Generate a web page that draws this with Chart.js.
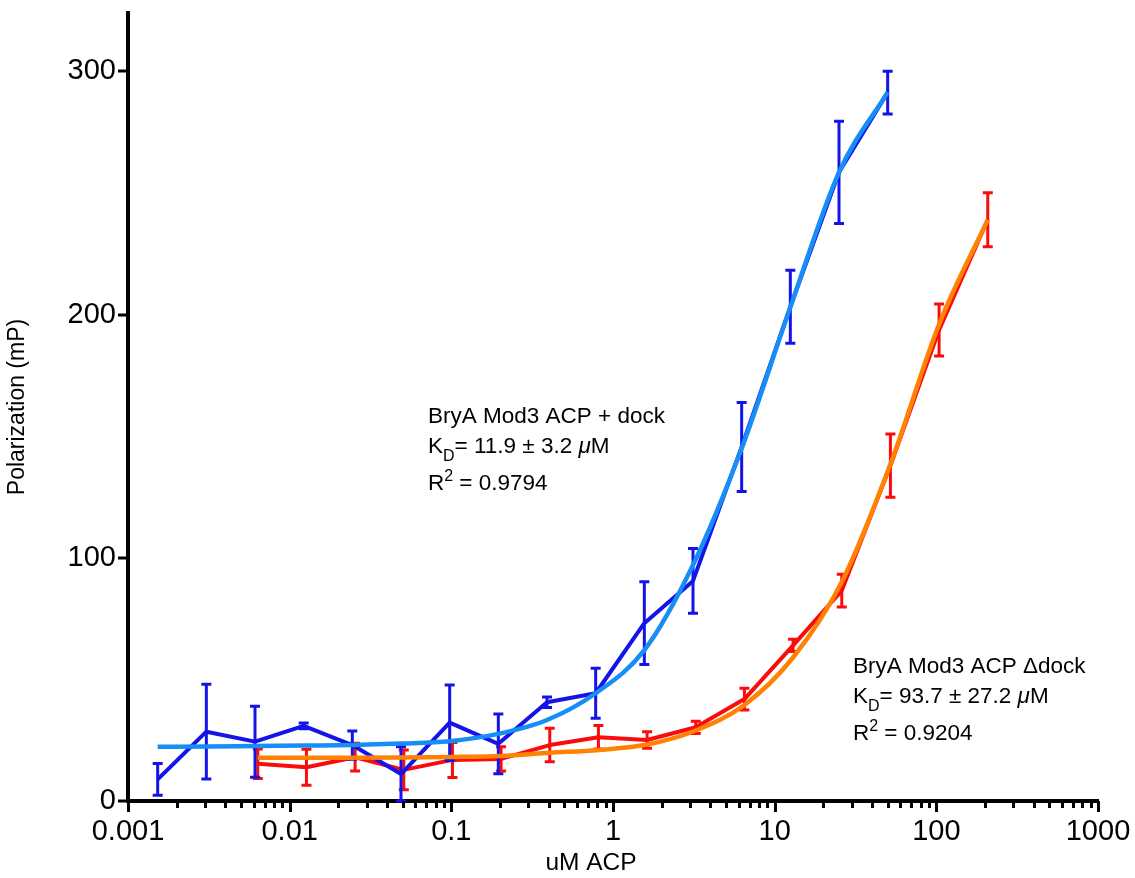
<!DOCTYPE html>
<html>
<head>
<meta charset="utf-8">
<title>BryA Mod3 ACP binding</title>
<script src="https://cdn.jsdelivr.net/npm/chart.js@4.4.1/dist/chart.umd.min.js"></script>
<style>
  html, body { margin: 0; padding: 0; background: #ffffff; }
  canvas { display: block; }
</style>
</head>
<body>
<canvas id="fp" width="1135" height="878"></canvas>
<script>
// ACP titration, 2-fold dilution series (uM)
const concDock = [0.001526, 0.003052, 0.006104, 0.01221, 0.02441, 0.04883, 0.09766, 0.1953,
                  0.3906, 0.7813, 1.5625, 3.125, 6.25, 12.5, 25, 50];
const polDock  = [8.9, 28.5, 24.4, 30.9, 23.0, 11.1, 32.2, 23.5, 40.6, 44.3, 73.1, 90.5, 145.6, 203.2, 258.5, 291.3];
const errDock  = [6.5, 19.5, 14.6, 1.2, 5.8, 11.2, 15.5, 12.3, 2.2, 10.3, 17.0, 13.3, 18.3, 15.0, 21.0, 8.8];
const fitDock  = [22.3, 22.4, 22.6, 22.8, 23.0, 23.6, 24.6, 27.6, 33.3, 44.3, 62.0, 97.0, 145.0, 203.0, 258.5, 291.5];

const concNoDock = [0.00635, 0.0127, 0.0254, 0.0508, 0.1016, 0.2031, 0.4063, 0.8125,
                    1.625, 3.25, 6.5, 13, 26, 52, 104, 208];
const polNoDock  = [15.3, 13.9, 18.0, 12.8, 16.9, 17.3, 23.0, 26.2, 25.1, 30.3, 41.9, 64.0, 86.5, 137.9, 193.7, 239.0];
const errNoDock  = [6.1, 7.4, 5.7, 8.2, 7.2, 5.0, 6.9, 4.8, 3.4, 2.5, 4.5, 2.5, 6.7, 13.0, 10.7, 11.1];
const fitNoDock  = [17.8, 17.8, 17.8, 17.9, 18.1, 18.5, 19.8, 21.0, 23.2, 29.0, 39.5, 59.0, 90.0, 138.5, 196.0, 239.0];

const xTickLabels = ['0.001', '0.01', '0.1', '1', '10', '100', '1000'];
const yTickValues = [0, 100, 200, 300];

const xTitle = 'uM ACP';
const yTitle = 'Polarization (mP)';

// fit annotations: anchor (uM, mP) of the first line's left baseline
const dockAnchor = [0.0717, 155.6];
const dockLines = [
  [{ t: 'BryA Mod3 ACP + dock' }],
  [{ t: 'K' }, { t: 'D', sub: true }, { t: '= 11.9 \u00b1 3.2 ' }, { t: '\u03bc', it: true }, { t: 'M' }],
  [{ t: 'R' }, { t: '2', sup: true }, { t: ' = 0.9794' }]
];
const noDockAnchor = [30.5, 52.7];
const noDockLines = [
  [{ t: 'BryA Mod3 ACP \u0394dock' }],
  [{ t: 'K' }, { t: 'D', sub: true }, { t: '= 93.7 \u00b1 27.2 ' }, { t: '\u03bc', it: true }, { t: 'M' }],
  [{ t: 'R' }, { t: '2', sup: true }, { t: ' = 0.9204' }]
];

const FONT = '"Liberation Sans", Arial, Helvetica, sans-serif';
const COL_DOCK = '#1414e8';
const COL_DOCK_FIT = '#168df7';
const COL_NODOCK = '#fa0c0c';
const COL_NODOCK_FIT = '#ff8205';

const toXY = (xs, ys) => xs.map((x, i) => ({ x: x, y: ys[i] }));
const isDecade = v => Math.abs(Math.log10(v) - Math.round(Math.log10(v))) < 1e-9;

// vertical error bars with caps, drawn right after their data line
const errorBars = {
  id: 'errorBars',
  afterDatasetDraw(chart, args) {
    const ds = chart.data.datasets[args.index];
    if (!ds.errors) return;
    const ctx = chart.ctx, xs = chart.scales.x, ys = chart.scales.y;
    ctx.save();
    ctx.strokeStyle = ds.borderColor;
    ctx.lineWidth = 3;
    ctx.lineCap = 'butt';
    ds.data.forEach((p, i) => {
      const e = ds.errors[i];
      const px = xs.getPixelForValue(p.x);
      const top = ys.getPixelForValue(p.y + e);
      const bot = ys.getPixelForValue(Math.max(0, p.y - e));
      ctx.beginPath();
      ctx.moveTo(px, top); ctx.lineTo(px, bot);
      ctx.moveTo(px - 5, top); ctx.lineTo(px + 5, top);
      ctx.moveTo(px - 5, bot); ctx.lineTo(px + 5, bot);
      ctx.stroke();
    });
    ctx.restore();
  }
};

function drawRich(ctx, x, y, parts, size) {
  let cx = x;
  parts.forEach(p => {
    const small = p.sub || p.sup;
    const fs = small ? Math.round(size * 0.7) : size;
    ctx.font = (p.it ? 'italic ' : '') + fs + 'px ' + FONT;
    const dy = p.sub ? 8 : (p.sup ? -9 : 0);
    ctx.fillText(p.t, cx, y + dy);
    cx += ctx.measureText(p.t).width;
  });
}

// axis tick marks, axis titles and fit annotations
const decorations = {
  id: 'decorations',
  afterDraw(chart) {
    const ctx = chart.ctx, xs = chart.scales.x, ys = chart.scales.y, a = chart.chartArea;
    ctx.save();
    ctx.strokeStyle = '#000';
    ctx.lineWidth = 3;
    ctx.beginPath();
    xs.ticks.forEach(t => {
      const px = Math.round(xs.getPixelForValue(t.value)) + 0.5;
      ctx.moveTo(px, a.bottom);
      ctx.lineTo(px, a.bottom + (isDecade(t.value) ? 11 : 7));
    });
    ys.ticks.forEach(t => {
      const py = Math.round(ys.getPixelForValue(t.value));
      ctx.moveTo(a.left, py);
      ctx.lineTo(a.left - 10, py);
    });
    ctx.stroke();

    ctx.fillStyle = '#000';
    ctx.textAlign = 'center';
    ctx.textBaseline = 'middle';
    ctx.font = '24.5px ' + FONT;
    ctx.fillText(xTitle, (a.left + a.right) / 2 - 22, a.bottom + 62);
    ctx.font = '23px ' + FONT;
    ctx.save();
    ctx.translate(18, (a.top + a.bottom) / 2);
    ctx.rotate(-Math.PI / 2);
    ctx.fillText(yTitle, 0, 0);
    ctx.restore();

    ctx.textAlign = 'left';
    ctx.textBaseline = 'alphabetic';
    const lineOffsets = [0, 30, 67];
    [[dockAnchor, dockLines], [noDockAnchor, noDockLines]].forEach(([anc, lines]) => {
      const x0 = xs.getPixelForValue(anc[0]);
      const y0 = ys.getPixelForValue(anc[1]);
      lines.forEach((ln, i) => drawRich(ctx, x0, y0 + lineOffsets[i], ln, 22.5));
    });
    ctx.restore();
  }
};

new Chart(document.getElementById('fp'), {
  type: 'line',
  data: {
    datasets: [
      {
        label: 'fit + dock', data: toXY(concDock, fitDock),
        borderColor: COL_DOCK_FIT, borderWidth: 4.5, cubicInterpolationMode: 'monotone',
        pointRadius: 0, order: 1, clip: false
      },
      {
        label: 'fit \u0394dock', data: toXY(concNoDock, fitNoDock),
        borderColor: COL_NODOCK_FIT, borderWidth: 4.5, cubicInterpolationMode: 'monotone',
        pointRadius: 0, order: 2, clip: false
      },
      {
        label: 'BryA Mod3 ACP + dock', data: toXY(concDock, polDock), errors: errDock,
        borderColor: COL_DOCK, borderWidth: 4, tension: 0, borderJoinStyle: 'round',
        pointRadius: 0, order: 3, clip: false
      },
      {
        label: 'BryA Mod3 ACP \u0394dock', data: toXY(concNoDock, polNoDock), errors: errNoDock,
        borderColor: COL_NODOCK, borderWidth: 4, tension: 0, borderJoinStyle: 'round',
        pointRadius: 0, order: 4, clip: false
      }
    ]
  },
  options: {
    responsive: false,
    animation: false,
    devicePixelRatio: 1,
    layout: { padding: { left: 0, right: 37, top: 13, bottom: 0 } },
    plugins: { legend: { display: false }, tooltip: { enabled: false } },
    scales: {
      x: {
        type: 'logarithmic',
        min: 0.001, max: 1000,
        afterBuildTicks(scale) {
          const t = [];
          for (let d = -3; d < 3; d++) {
            for (let m = 1; m < 10; m++) t.push({ value: m * Math.pow(10, d) });
          }
          t.push({ value: 1000 });
          scale.ticks = t;
        },
        afterFit(scale) {
          scale.height = 77;
          scale.paddingLeft = 0; scale.paddingRight = 0;
        },
        grid: { display: false, drawTicks: false },
        border: { display: true, color: '#000', width: 4 },
        ticks: {
          autoSkip: false, maxRotation: 0, minRotation: 0,
          padding: 14, color: '#000',
          font: { family: FONT, size: 29 },
          callback(v) {
            if (!isDecade(v)) return '';
            return xTickLabels[Math.round(Math.log10(v)) + 3];
          }
        }
      },
      y: {
        type: 'linear',
        min: 0, max: 324,
        afterBuildTicks(scale) {
          scale.ticks = yTickValues.map(v => ({ value: v }));
        },
        afterFit(scale) {
          scale.width = 128;
          scale.paddingTop = 0; scale.paddingBottom = 0;
        },
        grid: { display: false, drawTicks: false },
        border: { display: true, color: '#000', width: 4 },
        ticks: {
          padding: 12, color: '#000',
          font: { family: FONT, size: 29 }
        }
      }
    }
  },
  plugins: [errorBars, decorations]
});
</script>
</body>
</html>
